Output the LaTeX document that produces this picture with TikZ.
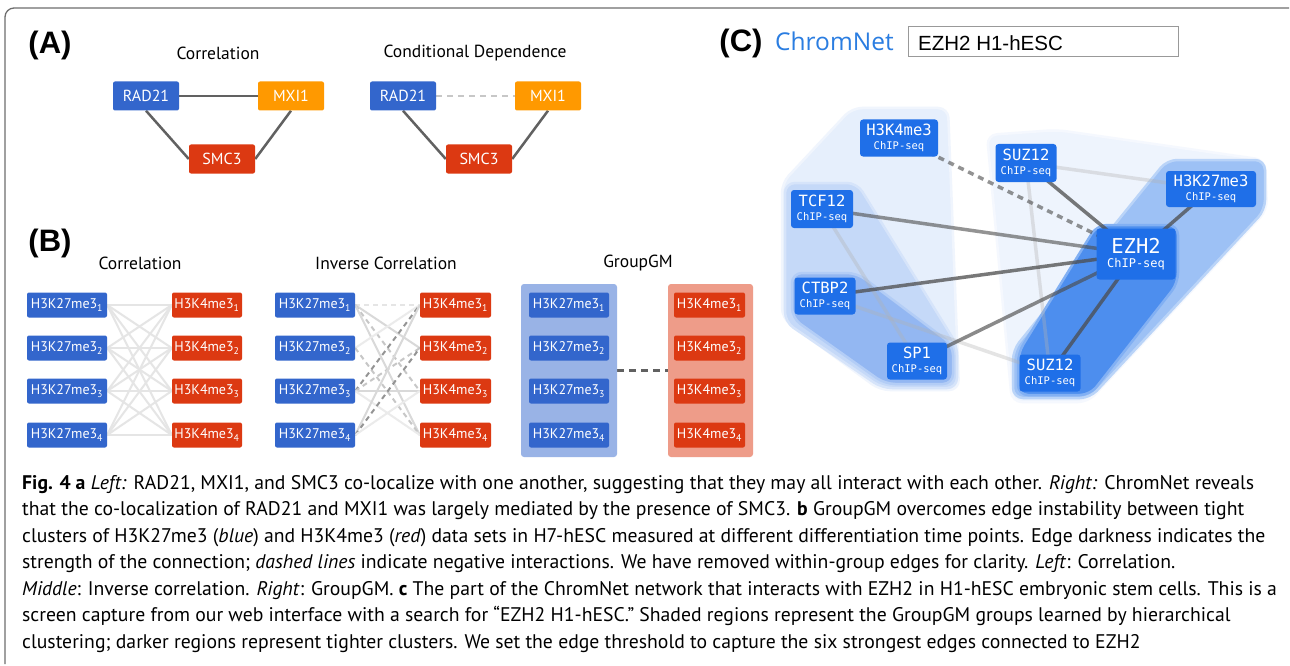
\documentclass[tikz,border=0pt]{standalone}
\usepackage{fontspec}
\setmainfont{PT Sans}
\newfontfamily\labfont{Liberation Sans}
\newfontfamily\chromfont{Open Sans}
\newfontfamily\cmono{DejaVu Sans Mono}

\definecolor{gblue}{HTML}{3366CC}
\definecolor{gred}{HTML}{DC3912}
\definecolor{gorange}{HTML}{FF9900}
\definecolor{gbluegrp}{HTML}{99B3E6}
\definecolor{gredgrp}{HTML}{EE9C89}
\definecolor{cnodeblue}{HTML}{1F6FE8}
\definecolor{chromblue}{HTML}{2A7DE1}
\definecolor{regA}{HTML}{E6EFFC}
\definecolor{regB}{HTML}{C5D9F8}
\definecolor{regC}{HTML}{93B7F2}
\definecolor{regD}{HTML}{EEF4FD}
\definecolor{regE}{HTML}{9DC1F5}
\definecolor{regF}{HTML}{4D8EEE}
\definecolor{framegray}{HTML}{6E6E6E}

\pgfdeclarelayer{paper}
\pgfdeclarelayer{regions}
\pgfdeclarelayer{edges}
\pgfsetlayers{paper,regions,edges,main}

\newlength\capw
\def\capLineA{\textbf{Fig. 4 a} \textit{Left:} RAD21, MXI1, and SMC3 co-localize with one another, suggesting that they may all interact with each other. \textit{Right:} ChromNet reveals}

\begin{document}
% caption size chosen so that the first line spans the full text width
\settowidth\capw{\fontsize{10}{12}\selectfont\capLineA}
\pgfmathsetmacro\capsz{10*1232/\capw}
\begin{tikzpicture}[x=1pt,y=-1pt,
  panel/.style={font=\labfont\bfseries\fontsize{31}{31}\selectfont, inner sep=0},
  ttl/.style={font=\fontsize{17.5}{18}\selectfont, inner sep=0},
  abox/.style={rounded corners=2pt, inner sep=0, text=white, minimum height=29, minimum width=66, font=\fontsize{16}{16}\selectfont},
  bbox/.style={rounded corners=2pt, inner sep=0, text=white, minimum height=25, font=\fontsize{14}{14}\selectfont},
  aedge/.style={draw=black!62, line width=2.5},
  corr/.style={draw=black!10, line width=2},
  invlt/.style={draw=black!15, line width=2},
  invvl/.style={draw=black!8, line width=2},
  invdl/.style={draw=black!10, line width=2, dash pattern=on 5pt off 4pt},
  invdm/.style={draw=black!22, line width=2, dash pattern=on 5pt off 4pt},
  invdk/.style={draw=black!42, line width=2, dash pattern=on 5pt off 4pt},
  cnode/.style={fill=cnodeblue, rounded corners=3pt, inner sep=0, text=white, align=center, font=\cmono},
  cstrong/.style={draw=black!70, draw opacity=0.75, line width=3.5},
  cweak/.style={draw=black!30, draw opacity=0.35, line width=3.5},
  region/.style={rounded corners=10pt, line width=2.5},
  captext/.style={anchor=base west, inner sep=0, font=\fontsize{\capsz}{\capsz}\selectfont}
]
\useasboundingbox (0,0) rectangle (1290,666);
\begin{pgfonlayer}{paper}
\fill[white] (0,0) rectangle (1290,666);
\end{pgfonlayer}

% outer frame
\draw[framegray, line width=1.3, rounded corners=9pt] (5,664) -- (5,8) -- (1289,8);

% ---------------- panel A ----------------
\node[panel] (labA) at (50,45) {(A)};
\node[ttl] (tA1) at (218,53) {Correlation};
\node[ttl] (tA2) at (475,53) {Conditional Dependence};

\node[abox, fill=gblue] (radL) at (146,96) {RAD21};
\node[abox, fill=gorange] (mxiL) at (291,96) {MXI1};
\node[abox, fill=gred] (smcL) at (222,159) {SMC3};
\node[abox, fill=gblue] (radR) at (403,96) {RAD21};
\node[abox, fill=gorange] (mxiR) at (548,96) {MXI1};
\node[abox, fill=gred] (smcR) at (479,159) {SMC3};

\begin{pgfonlayer}{edges}
\draw[aedge] (radL.east) -- (mxiL.west);
\draw[aedge] (radL.south) -- (smcL.west);
\draw[aedge] (mxiL.south) -- (smcL.east);
\draw[draw=black!22, line width=2.5, dash pattern=on 6pt off 5pt] (radR.east) -- (mxiR.west);
\draw[aedge] (radR.south) -- (smcR.west);
\draw[aedge] (mxiR.south) -- (smcR.east);
\end{pgfonlayer}

% ---------------- panel B ----------------
\node[panel] (labB) at (50,243) {(B)};
\node[ttl] (tB1) at (140,263) {Correlation};
\node[ttl] (tB2) at (386,263) {Inverse Correlation};
\node[ttl] (tB3) at (638,263) {GroupGM};

% group backgrounds
\node[fill=gbluegrp, rounded corners=3pt, minimum width=96, minimum height=173, inner sep=0] (gBlue) at (569,370.5) {};
\node[fill=gredgrp, rounded corners=3pt, minimum width=85, minimum height=173, inner sep=0] (gRed) at (710.5,370.5) {};

\foreach \i/\yy in {1/305,2/348,3/391,4/435}{
  \node[bbox, fill=gblue, minimum width=80] (lb\i) at (67,\yy) {H3K27me3\textsubscript{\i}};
  \node[bbox, fill=gred, minimum width=70] (lr\i) at (207,\yy) {H3K4me3\textsubscript{\i}};
  \node[bbox, fill=gblue, minimum width=80] (mb\i) at (315,\yy) {H3K27me3\textsubscript{\i}};
  \node[bbox, fill=gred, minimum width=71] (mr\i) at (455.5,\yy) {H3K4me3\textsubscript{\i}};
  \node[bbox, fill=gblue, minimum width=80] (gb\i) at (569,\yy) {H3K27me3\textsubscript{\i}};
  \node[bbox, fill=gred, minimum width=71] (gr\i) at (709.5,\yy) {H3K4me3\textsubscript{\i}};
}

\begin{pgfonlayer}{edges}
% correlation: every pair
\foreach \i in {1,2,3,4}{
  \foreach \j in {1,2,3,4}{
    \draw[corr] (lb\i.east) -- (lr\j.west);
  }
}
% inverse correlation
\draw[invdl] (mb1.east) -- (mr1.west);
\draw[invlt] (mb1.east) -- (mr2.west);
\draw[invdm] (mb1.east) -- (mr3.west);
\draw[invlt] (mb1.east) -- (mr4.west);
\draw[invvl] (mb2.east) -- (mr1.west);
\draw[invdm] (mb2.east) -- (mr4.west);
\draw[invdk] (mb3.east) -- (mr1.west);
\draw[invdm] (mb3.east) -- (mr2.west);
\draw[invlt] (mb3.east) -- (mr3.west);
\draw[invvl] (mb3.east) -- (mr4.west);
\draw[invlt] (mb4.east) -- (mr1.west);
\draw[invdk] (mb4.east) -- (mr2.west);
\draw[invvl] (mb4.east) -- (mr3.west);
% groupGM: one negative edge between the groups
\draw[draw=black!62, line width=3, dash pattern=on 7pt off 5pt] (gBlue.east) -- (gRed.west);
\end{pgfonlayer}

% ---------------- panel C ----------------
\node[panel] (labC) at (741,43) {(C)};
\node[font=\chromfont\fontsize{24.5}{25}\selectfont, text=chromblue, inner sep=0, anchor=west] (chrom) at (775,41) {ChromNet};
\node[draw=black!40, line width=1, minimum width=270, minimum height=30, inner sep=0] (search) at (1043,42) {};
\node[font=\labfont\fontsize{20.5}{21}\selectfont, inner sep=0, anchor=west] (query) at (918,43) {EZH2 H1-hESC};

\node[cnode, minimum width=78, minimum height=37] (h3k4) at (899,138) {\fontsize{15.5}{15}\selectfont H3K4me3\\[1.5pt]\fontsize{10.5}{15}\selectfont ChIP-seq};
\node[cnode, minimum width=61, minimum height=38] (suzT) at (1026,163) {\fontsize{15.5}{15}\selectfont SUZ12\\[1.5pt]\fontsize{10.5}{15}\selectfont ChIP-seq};
\node[cnode, minimum width=90, minimum height=36] (h3k27) at (1211,189) {\fontsize{15.5}{15}\selectfont H3K27me3\\[1.5pt]\fontsize{10.5}{15}\selectfont ChIP-seq};
\node[cnode, minimum width=62, minimum height=38] (tcf) at (822,209) {\fontsize{15.5}{15}\selectfont TCF12\\[1.5pt]\fontsize{10.5}{15}\selectfont ChIP-seq};
\node[cnode, minimum width=79, minimum height=51] (ezh) at (1136,254) {\fontsize{20.5}{20}\selectfont EZH2\\[2pt]\fontsize{12}{18}\selectfont ChIP-seq};
\node[cnode, minimum width=61, minimum height=37] (ctbp) at (825,296) {\fontsize{15.5}{15}\selectfont CTBP2\\[1.5pt]\fontsize{10.5}{15}\selectfont ChIP-seq};
\node[cnode, minimum width=60, minimum height=37] (sp1) at (917,361) {\fontsize{15.5}{15}\selectfont SP1\\[1.5pt]\fontsize{10.5}{15}\selectfont ChIP-seq};
\node[cnode, minimum width=61, minimum height=37] (suzB) at (1050,373) {\fontsize{15.5}{15}\selectfont SUZ12\\[1.5pt]\fontsize{10.5}{15}\selectfont ChIP-seq};

% shaded cluster regions (outer to inner)
\begin{pgfonlayer}{regions}
\filldraw[region, fill=regA, draw=regA!60] (852,108) -- (948,108) -- (959,390) -- (880,390) -- (782,318) -- (782,183) -- cycle;
\filldraw[region, fill=regD, draw=regD!60] (987,135) -- (1057,130) -- (1265,160) -- (1267,210) -- (1088,402) -- (1012,402) -- cycle;
\filldraw[region, fill=regB, draw=regB!70] (785,183) -- (857,183) -- (957,345) -- (957,388) -- (882,388) -- (785,322) -- cycle;
\filldraw[region, fill=regE, draw=regE!70] (1167,160) -- (1265,160) -- (1265,210) -- (1090,398) -- (1013,398) -- (1013,350) -- cycle;
\filldraw[region, fill=regC, draw=regC!70] (792,273) -- (857,273) -- (953,345) -- (953,384) -- (885,384) -- (792,318) -- cycle;
\filldraw[region, fill=regF, draw=regF!70] (1097,225) -- (1178,225) -- (1178,283) -- (1090,395) -- (1018,395) -- (1018,353) -- cycle;
\end{pgfonlayer}

\begin{pgfonlayer}{edges}
\draw[cweak] (suzT.center) -- (h3k27.center);
\draw[cweak] (suzT.center) -- (suzB.center);
\draw[cweak] (tcf.center) -- (sp1.center);
\draw[cweak] (ctbp.center) -- (suzB.center);
\draw[cstrong, dash pattern=on 6pt off 5pt, draw opacity=0.6] (h3k4.center) -- (ezh.center);
\draw[cstrong] (suzT.center) -- (ezh.center);
\draw[cstrong] (h3k27.center) -- (ezh.center);
\draw[cstrong, draw opacity=0.6] (tcf.center) -- (ezh.center);
\draw[cstrong] (ctbp.center) -- (ezh.center);
\draw[cstrong, draw opacity=0.65] (sp1.center) -- (ezh.center);
\draw[cstrong] (suzB.center) -- (ezh.center);
\end{pgfonlayer}

% ---------------- caption ----------------
\node[captext] (cap1) at (22,489) {\capLineA};
\node[captext] (cap2) at (22,515.5) {that the co-localization of RAD21 and MXI1 was largely mediated by the presence of SMC3. \textbf{b} GroupGM overcomes edge instability between tight};
\node[captext] (cap3) at (22,542) {clusters of H3K27me3 (\textit{blue}) and H3K4me3 (\textit{red}) data sets in H7-hESC measured at different differentiation time points. Edge darkness indicates the};
\node[captext] (cap4) at (22,568.5) {strength of the connection; \textit{dashed lines} indicate negative interactions. We have removed within-group edges for clarity. \textit{Left}: Correlation.};
\node[captext] (cap5) at (22,595) {\textit{Middle}: Inverse correlation. \textit{Right}: GroupGM. \textbf{c} The part of the ChromNet network that interacts with EZH2 in H1-hESC embryonic stem cells. This is a};
\node[captext] (cap6) at (22,621.5) {screen capture from our web interface with a search for “EZH2 H1-hESC.” Shaded regions represent the GroupGM groups learned by hierarchical};
\node[captext] (cap7) at (22,648) {clustering; darker regions represent tighter clusters. We set the edge threshold to capture the six strongest edges connected to EZH2};
\end{tikzpicture}
\end{document}
